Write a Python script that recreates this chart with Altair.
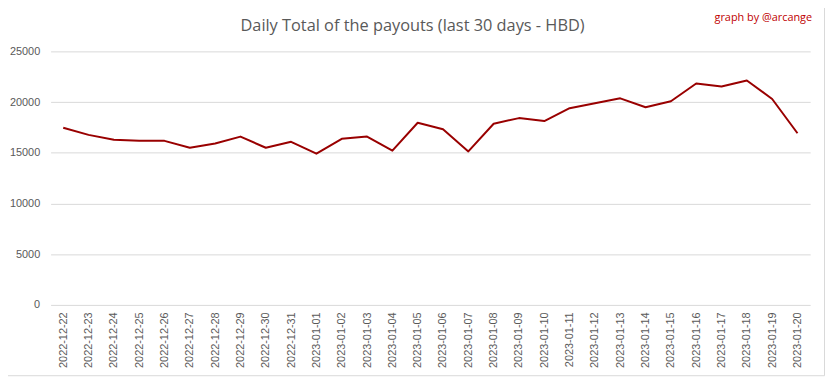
import altair as alt
import pandas as pd

dates = ["2022-12-22", "2022-12-23", "2022-12-24", "2022-12-25", "2022-12-26",
         "2022-12-27", "2022-12-28", "2022-12-29", "2022-12-30", "2022-12-31",
         "2023-01-01", "2023-01-02", "2023-01-03", "2023-01-04", "2023-01-05",
         "2023-01-06", "2023-01-07", "2023-01-08", "2023-01-09", "2023-01-10",
         "2023-01-11", "2023-01-12", "2023-01-13", "2023-01-14", "2023-01-15",
         "2023-01-16", "2023-01-17", "2023-01-18", "2023-01-19", "2023-01-20"]
payouts = [17475, 16764, 16277, 16179, 16179,
           15497, 15916, 16598, 15497, 16082,
           14912, 16374, 16598, 15205, 17963,
           17320, 15136, 17865, 18421, 18129,
           19396, 19883, 20370, 19493, 20078,
           21832, 21540, 22125, 20302, 16930]
y_ticks = [0, 5000, 10000, 15000, 20000, 25000]

df = pd.DataFrame({"date": dates, "payout": payouts})

PLOT_W = 767
PLOT_H = 256
PAD_L, PAD_T = 43, 42
TOTAL_W, TOTAL_H = 825, 369

base = alt.Chart(df)

line = base.mark_line(color="#990000", strokeWidth=2, strokeJoin="round").encode(
    x=alt.X("date:N", sort=dates, title=None,
            scale=alt.Scale(paddingInner=0, paddingOuter=0.5),
            axis=alt.Axis(labelAngle=-90, ticks=False, domain=False, grid=False,
                          labelFont="Liberation Sans", labelFontSize=11,
                          labelColor="#595959", labelPadding=7,
                          labelBaseline="middle", labelAlign="right")),
    y=alt.Y("payout:Q", title=None,
            scale=alt.Scale(domain=[0, 25000], nice=False),
            axis=alt.Axis(values=y_ticks, format="d", ticks=False, domain=False,
                          grid=True, gridColor="#d9d9d9", gridWidth=1,
                          labelFont="Liberation Sans", labelFontSize=11,
                          labelColor="#595959", labelPadding=11)),
)

credit = alt.Chart(pd.DataFrame({"t": ["graph by @arcange"]})).mark_text(
    align="right", baseline="middle", font="Open Sans", fontSize=11,
    color="#c00000", clip=False
).encode(
    text="t:N",
    x=alt.value(820 - 8 - PAD_L),
    y=alt.value(16 - 8 - PAD_T),
)

title = alt.Chart(pd.DataFrame({"t": ["Daily Total of the payouts (last 30 days - HBD)"]})).mark_text(
    align="center", baseline="alphabetic", font="Open Sans", fontSize=16.5,
    color="#595959", clip=False
).encode(
    text="t:N",
    x=alt.value(416.5 - 8 - PAD_L),
    y=alt.value(29 - 8 - PAD_T),
)

border = alt.Chart(pd.DataFrame({"a": [0]})).mark_rect(
    filled=False, stroke="#d9d9d9", strokeWidth=1, clip=False
).encode(
    x=alt.value(-PAD_L - 8 + 0.5),
    x2=alt.value(832.5 - 8 - PAD_L),
    y=alt.value(-PAD_T - 8 + 0.5),
    y2=alt.value(377.5 - 8 - PAD_T),
)

chart = alt.layer(border, line, title, credit).properties(
    width=PLOT_W, height=PLOT_H,
    autosize=alt.AutoSizeParams(type="none"),
    padding={"left": PAD_L, "top": PAD_T,
             "right": TOTAL_W - PAD_L - PLOT_W,
             "bottom": TOTAL_H - PAD_T - PLOT_H},
    background="white",
).configure_view(stroke=None)

chart.save("out.html", embed_options={"renderer": "svg", "actions": False})
